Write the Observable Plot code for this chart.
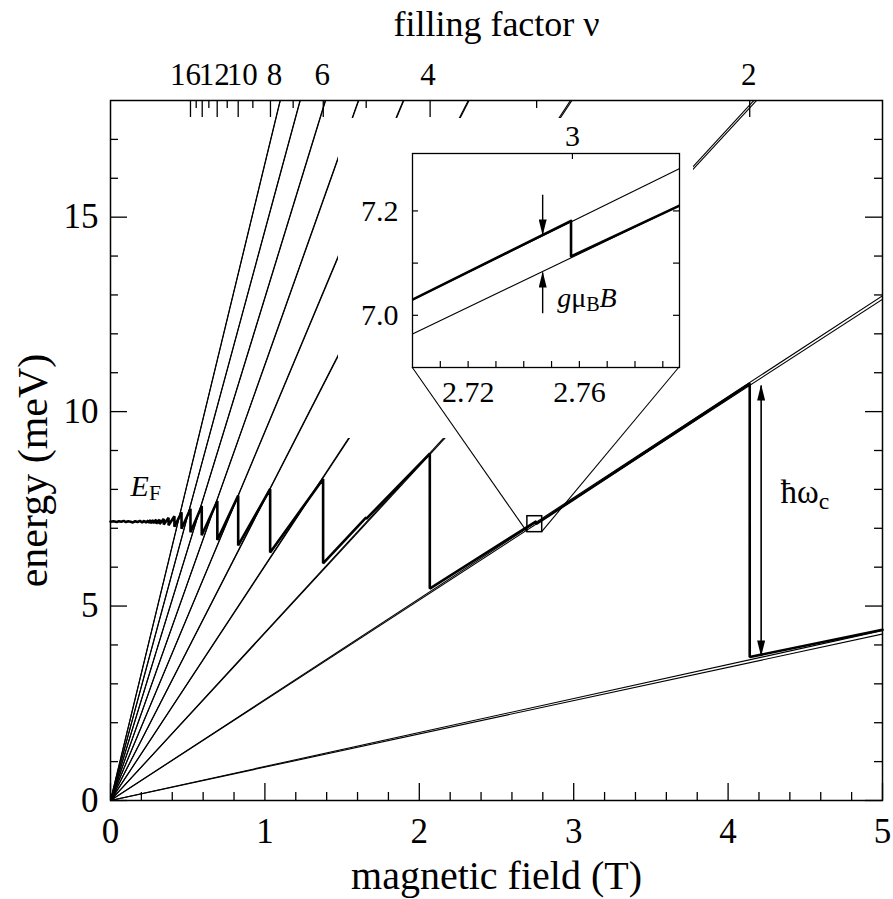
<!DOCTYPE html>
<html>
<head>
<meta charset="utf-8">
<script src="https://cdn.jsdelivr.net/npm/d3@7"></script>
<script src="https://cdn.jsdelivr.net/npm/@observablehq/plot@0.6"></script>
<style>
  body { margin: 0; background: #fff; }
  #chart { position: relative; width: 893px; height: 899px; }
</style>
</head>
<body>
<div id="chart"></div>
<script>
// ---------------- data ----------------
// Landau levels n = 0..9, each spin-split: energy (meV) reached at the field levelField (T), lines start at the origin
const levelField = 5;
const levelUpAt5T   = [4.37, 12.98, 21.60, 30.21, 38.84, 47.46, 56.07, 64.69, 73.32, 81.93];
const levelDownAt5T = [4.28, 12.89, 21.51, 30.12, 38.75, 47.37, 55.98, 64.60, 73.23, 81.84];

// Fermi energy E_F (thick sawtooth)
const efField = [
  0.000, 0.020, 0.040, 0.055, 0.070, 0.085, 0.100, 0.115, 0.130, 0.145, 0.160, 0.175, 0.190, 0.205, 0.218, 0.230,
  0.244, 0.244, 0.259, 0.259, 0.276, 0.276, 0.296, 0.296, 0.318, 0.318, 0.345, 0.345, 0.376, 0.376,
  0.414, 0.414, 0.460, 0.460, 0.518, 0.518, 0.591, 0.591, 0.692, 0.692, 0.827, 0.827,
  1.034, 1.034, 1.377, 1.377, 1.656, 1.656, 2.068, 2.068, 2.757, 2.757, 4.140, 4.140, 5.000
];
const efEnergy = [
  7.17, 7.18, 7.16, 7.18, 7.17, 7.19, 7.16, 7.18, 7.17, 7.15, 7.18, 7.16, 7.19, 7.15, 7.19, 7.15,
  7.20, 7.14, 7.21, 7.13, 7.21, 7.13, 7.22, 7.12, 7.22, 7.11, 7.24, 7.10, 7.27, 7.08,
  7.31, 7.04, 7.41, 6.99, 7.50, 6.90, 7.57, 6.82, 7.70, 6.70, 7.84, 6.56,
  8.01, 6.38, 8.27, 6.10, 7.28, 7.24, 8.92, 5.45, 7.18, 7.11, 10.72, 3.69, 4.39
];

// top axis: filling factor
const nuValues = [16, 15, 14, 13, 12, 11, 10, 9, 8, 7, 6, 5, 4, 3, 2];
const nuField  = [0.518, 0.555, 0.594, 0.637, 0.691, 0.756, 0.827, 0.922, 1.036, 1.183, 1.378, 1.656, 2.070, 2.760, 4.140];
const nuLabeled = [16, 12, 10, 8, 6, 4, 2];

// main axes ticks
const xMajorTicks = [0, 1, 2, 3, 4, 5];
const xMinorTicks = [0.2, 0.4, 0.6, 0.8, 1.2, 1.4, 1.6, 1.8, 2.2, 2.4, 2.6, 2.8, 3.2, 3.4, 3.6, 3.8, 4.2, 4.4, 4.6, 4.8];
const yMajorTicks = [0, 5, 10, 15];
const yMinorTicks = [1, 2, 3, 4, 6, 7, 8, 9, 11, 12, 13, 14, 16, 17];

// hbar omega_c double arrow (field, low end, high end)
const hwArrow = {field: 4.214, low: 3.73, high: 10.67};

// annotation anchors
const efLabelAt = {field: 0.13, energy: 7.84};
const hwLabelAt = {field: 4.34, energy: 7.64};

// inset (zoom around nu = 3)
const insetFieldDomain  = [2.700, 2.796];
const insetEnergyDomain = [6.90, 7.31];
const insetLineStart = [7.030, 6.964];   // energies at 2.700 T (upper / lower spin)
const insetLineEnd   = [7.281, 7.210];   // energies at 2.796 T
const insetEfField  = [2.700, 2.757, 2.757, 2.796];
const insetEfEnergy = [7.030, 7.181, 7.113, 7.210];
const insetXTicks = [2.71, 2.72, 2.73, 2.74, 2.75, 2.76, 2.77, 2.78, 2.79];
const insetXLabels = [2.72, 2.76];
const insetYTicks = [7.0, 7.1, 7.2];
const insetYLabels = [7.0, 7.2];
const insetNuField = [2.7575];
const insetNuLabel = ["3"];
const gArrowField = 2.7468;
const gArrowDown = [7.231, 7.155]; // tail, tip
const gArrowUp   = [7.004, 7.082]; // tail, tip
const gLabelAt = {field: 2.752, energy: 7.016};

// ---------------- layout ----------------
const W = 893, H = 899;
const M = {top: 100, right: 11, bottom: 99, left: 110};
const plotW = W - M.left - M.right, plotH = H - M.top - M.bottom;
const FONT = "'Liberation Serif', 'Times New Roman', serif";
const inset = {left: 338, top: 118, width: 355, height: 320, mt: 35, mr: 14, mb: 71, ml: 74};
const ipW = inset.width - inset.ml - inset.mr, ipH = inset.height - inset.mt - inset.mb;
// white backdrop of the inset (local pixels): full box, but its lower-right corner is left open
const backdrop = `M0,0H${inset.width}V${inset.height - 23}H${inset.width - 43}V${inset.height}H0Z`;

const levels = levelUpAt5T.concat(levelDownAt5T);
const nuIdx = nuValues.map((_, i) => i);
const nuLabelNudge = {16: -5, 12: -3, 10: 4, 8: 4, 6: -1, 4: -2, 2: -1};

const nuLabelMarks = nuIdx.filter(i => nuLabeled.includes(nuValues[i])).map(i =>
  Plot.text([i], {
    x: j => nuField[j], text: j => String(nuValues[j]), frameAnchor: "top", textAnchor: "middle",
    lineAnchor: "bottom", dy: -16, dx: nuLabelNudge[nuValues[i]], fontSize: 31, letterSpacing: -4
  })
);

const mainPlot = Plot.plot({
  width: W, height: H,
  marginTop: M.top, marginRight: M.right, marginBottom: M.bottom, marginLeft: M.left,
  x: {domain: [0, 5]},
  y: {domain: [0, 18]},
  style: {fontFamily: FONT, fontSize: "34px", color: "black", background: "white"},
  marks: [
    // Landau levels
    Plot.link(levels, {x1: () => 0, y1: () => 0, x2: () => levelField, y2: d => d,
      stroke: "black", strokeWidth: 1.1, clip: true}),
    // Fermi energy
    Plot.line(efField, {x: efField, y: efEnergy, stroke: "black", strokeWidth: 2.6, strokeLinejoin: "miter"}),
    // hbar omega_c arrow
    Plot.link([hwArrow], {x1: d => d.field, y1: d => d.low, x2: d => d.field, y2: d => d.high,
      stroke: "black", strokeWidth: 1.6, ariaLabel: () => "hw-arrow"}),
    // zoom square
    Plot.rect([0], {x1: () => insetFieldDomain[0], x2: () => insetFieldDomain[1],
      y1: () => insetEnergyDomain[0], y2: () => insetEnergyDomain[1],
      fill: "none", stroke: "black", strokeWidth: 1.5}),
    // ticks: bottom
    Plot.tickX(xMajorTicks, {x: d => d, insetTop: plotH - 17, stroke: "black", strokeWidth: 1.3}),
    Plot.tickX(xMinorTicks, {x: d => d, insetTop: plotH - 8, stroke: "black", strokeWidth: 1.3}),
    // ticks: left / right
    Plot.tickY(yMajorTicks, {y: d => d, insetRight: plotW - 17, stroke: "black", strokeWidth: 1.3}),
    Plot.tickY(yMinorTicks, {y: d => d, insetRight: plotW - 8, stroke: "black", strokeWidth: 1.3}),
    Plot.tickY(yMajorTicks, {y: d => d, insetLeft: plotW - 17, stroke: "black", strokeWidth: 1.3}),
    Plot.tickY(yMinorTicks, {y: d => d, insetLeft: plotW - 8, stroke: "black", strokeWidth: 1.3}),
    // ticks: top (filling factor)
    Plot.tickX(nuIdx.filter(i => nuValues[i] % 2 === 0), {x: i => nuField[i], insetBottom: plotH - 17, stroke: "black", strokeWidth: 1.3}),
    Plot.tickX(nuIdx.filter(i => nuValues[i] % 2 === 1), {x: i => nuField[i], insetBottom: plotH - 8, stroke: "black", strokeWidth: 1.3}),
    ...nuLabelMarks,
    // axes
    Plot.axisX({ticks: xMajorTicks, tickSize: 0, tickPadding: 18, fontSize: 35, label: null, tickFormat: d => String(d)}),
    Plot.axisY({ticks: yMajorTicks, tickSize: 0, tickPadding: 12, fontSize: 35, label: null, tickFormat: d => String(d)}),
    Plot.text(["magnetic field (T)"], {frameAnchor: "bottom", textAnchor: "middle", lineAnchor: "bottom", dy: 88, fontSize: 40}),
    Plot.text(["energy (meV)"], {frameAnchor: "left", textAnchor: "middle", rotate: -90, lineAnchor: "bottom", dx: -64, dy: 20, fontSize: 42}),
    Plot.text(["filling factor ν"], {frameAnchor: "top", textAnchor: "middle", lineAnchor: "bottom", dy: -65, fontSize: 36}),
    // annotation labels
    Plot.text(["EF"], {x: () => efLabelAt.field, y: () => efLabelAt.energy, textAnchor: "start",
      lineAnchor: "bottom", fontSize: 30, ariaLabel: () => "label-ef"}),
    Plot.text(["hw"], {x: () => hwLabelAt.field, y: () => hwLabelAt.energy, textAnchor: "start",
      lineAnchor: "bottom", fontSize: 33, ariaLabel: () => "label-hw"}),
    Plot.frame({stroke: "black", strokeWidth: 1.5})
  ]
});

const insetPlot = Plot.plot({
  width: inset.width, height: inset.height,
  marginTop: inset.mt, marginRight: inset.mr, marginBottom: inset.mb, marginLeft: inset.ml,
  x: {domain: insetFieldDomain},
  y: {domain: insetEnergyDomain},
  style: {fontFamily: FONT, fontSize: "30px", color: "black", background: "white"},
  marks: [
    Plot.link([0, 1], {x1: () => insetFieldDomain[0], y1: i => insetLineStart[i],
      x2: () => insetFieldDomain[1], y2: i => insetLineEnd[i], stroke: "black", strokeWidth: 1.1, clip: true}),
    Plot.line(insetEfField, {x: insetEfField, y: insetEfEnergy, stroke: "black", strokeWidth: 2.6, clip: true}),
    Plot.link([gArrowDown, gArrowUp], {x1: () => gArrowField, y1: d => d[0], x2: () => gArrowField, y2: d => d[1],
      stroke: "black", strokeWidth: 1.4, ariaLabel: () => "g-arrow"}),
    Plot.tickX(insetXTicks, {x: d => d, insetTop: ipH - 6, stroke: "black", strokeWidth: 1.2}),
    Plot.tickX(insetNuField, {x: d => d, insetBottom: ipH - 6, stroke: "black", strokeWidth: 1.2}),
    Plot.tickY(insetYTicks, {y: d => d, insetRight: ipW - 6, stroke: "black", strokeWidth: 1.2}),
    Plot.tickY(insetYTicks, {y: d => d, insetLeft: ipW - 6, stroke: "black", strokeWidth: 1.2}),
    Plot.axisX({ticks: insetXLabels, tickSize: 0, tickPadding: 13, fontSize: 30, label: null, tickFormat: d => d.toFixed(2)}),
    Plot.axisY({ticks: insetYLabels, tickSize: 0, tickPadding: 14, fontSize: 30, label: null, tickFormat: d => d.toFixed(1)}),
    Plot.text(insetNuField, {x: d => d, text: (d, i) => insetNuLabel[i], frameAnchor: "top", textAnchor: "middle", lineAnchor: "bottom", dy: -8, fontSize: 30}),
    Plot.text(["gmuBB"], {x: () => gLabelAt.field, y: () => gLabelAt.energy, textAnchor: "start",
      lineAnchor: "bottom", fontSize: 28, ariaLabel: () => "label-g"}),
    Plot.frame({stroke: "black", strokeWidth: 1.3})
  ]
});

// ---------------- assemble ----------------
const svg = d3.select(mainPlot);
const isvg = d3.select(insetPlot);
isvg.insert("path", ":first-child").attr("d", backdrop).attr("fill", "white");
insetPlot.setAttribute("x", inset.left);
insetPlot.setAttribute("y", inset.top);
insetPlot.style.width = inset.width + "px";
insetPlot.style.height = inset.height + "px";
insetPlot.style.maxWidth = "none";
insetPlot.style.overflow = "visible";
insetPlot.style.background = "none";
mainPlot.appendChild(insetPlot);

// connector lines from the zoom square to the inset
const sx = mainPlot.scale("x"), sy = mainPlot.scale("y");
const ix = insetPlot.scale("x"), iy = insetPlot.scale("y");
[insetFieldDomain[0], insetFieldDomain[1]].forEach(b => {
  svg.append("line")
    .attr("x1", sx.apply(b)).attr("y1", sy.apply(insetEnergyDomain[0]))
    .attr("x2", inset.left + ix.apply(b)).attr("y2", inset.top + iy.apply(insetEnergyDomain[0]))
    .attr("stroke", "black").attr("stroke-width", 1.1);
});

// arrowhead marker
const defs = svg.append("defs");
defs.append("marker").attr("id", "ah").attr("viewBox", "0 0 16 8")
  .attr("refX", 15).attr("refY", 4).attr("markerWidth", 16).attr("markerHeight", 8)
  .attr("markerUnits", "userSpaceOnUse").attr("orient", "auto-start-reverse")
  .append("path").attr("d", "M0,0L16,4L0,8Z").attr("fill", "black");
svg.selectAll('[aria-label="hw-arrow"]').attr("marker-start", "url(#ah)").attr("marker-end", "url(#ah)");
svg.selectAll('[aria-label="g-arrow"]').attr("marker-end", "url(#ah)");

// rich labels
svg.selectAll('text[aria-label="label-ef"]').each(function() {
  const t = d3.select(this).text(null);
  t.append("tspan").attr("font-style", "italic").text("E");
  t.append("tspan").attr("font-size", "0.72em").attr("dy", "0.22em").text("F");
});
svg.selectAll('text[aria-label="label-hw"]').each(function() {
  const t = d3.select(this).text(null);
  t.append("tspan").text("ħω");
  t.append("tspan").attr("font-size", "0.72em").attr("dy", "0.25em").text("c");
});
svg.selectAll('text[aria-label="label-g"]').each(function() {
  const t = d3.select(this).text(null);
  t.append("tspan").attr("font-style", "italic").text("g");
  t.append("tspan").text("μ");
  t.append("tspan").attr("font-size", "0.72em").attr("dy", "0.22em").text("B");
  t.append("tspan").attr("font-style", "italic").attr("dy", "-0.16em").text("B");
});

document.getElementById("chart").appendChild(mainPlot);
</script>
</body>
</html>
